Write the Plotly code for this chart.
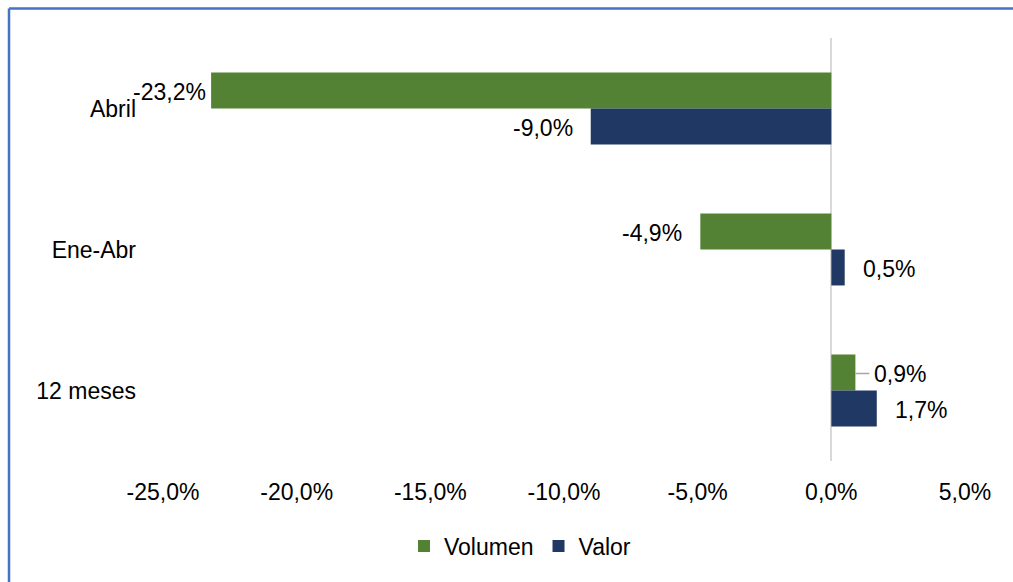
import plotly.graph_objects as go

categories = ["Abril", "Ene-Abr", "12 meses"]
volumen = [-23.2, -4.9, 0.9]
valor = [-9.0, 0.5, 1.7]
x_ticks = [-25, -20, -15, -10, -5, 0, 5]

GREEN = "#548235"
BLUE = "#203864"
FONT = "Liberation Sans, Arial, sans-serif"
FS = 23

def fmt(v):
    return f"{v:.1f}".replace(".", ",") + "%"

fig = go.Figure()
fig.add_trace(go.Bar(name="Volumen", y=categories, x=volumen, orientation="h",
                     marker=dict(color=GREEN, line=dict(width=0)), cliponaxis=False))
fig.add_trace(go.Bar(name="Valor", y=categories, x=valor, orientation="h",
                     marker=dict(color=BLUE, line=dict(width=0)), cliponaxis=False))

def add_label(v, idx, yshift, leader=False):
    if leader:
        fig.add_annotation(x=v, y=idx, xref="x", yref="y", yshift=yshift,
                           text=fmt(v), showarrow=True, ax=14, ay=0,
                           arrowhead=0, arrowwidth=1.5, arrowcolor="#A6A6A6",
                           xanchor="left", borderpad=4,
                           font=dict(size=FS, color="black", family=FONT))
        return
    pad = 3 if v < -20 else 16
    fig.add_annotation(x=v, y=idx, xref="x", yref="y", yshift=yshift,
                       xshift=-pad if v < 0 else pad,
                       xanchor="right" if v < 0 else "left",
                       text=fmt(v), showarrow=False,
                       font=dict(size=FS, color="black", family=FONT))

for i, v in enumerate(volumen):
    add_label(v, i, 17, leader=(i == 2))
for i, v in enumerate(valor):
    add_label(v, i, -19)

W, H = 1013, 582
L, R, T, B = 163, 965, 38, 461
pw, ph = R - L, B - T
bx = (9 - L) / pw
by = 1 + (T - 8.5) / ph
border = dict(color="#4472C4", width=2.5)
fig.add_shape(type="line", xref="paper", yref="paper",
              x0=bx, x1=(W - L) / pw, y0=by, y1=by, line=border, layer="below")
fig.add_shape(type="line", xref="paper", yref="paper",
              x0=bx, x1=bx, y0=by, y1=(B - H) / ph, line=border, layer="below")

fig.update_layout(
    width=W, height=H,
    margin=dict(l=L, r=W - R, t=T, b=H - B),
    paper_bgcolor="white", plot_bgcolor="white",
    barmode="group", bargap=0.49, bargroupgap=0,
    font=dict(family=FONT, size=FS, color="black"),
    showlegend=True,
    legend=dict(orientation="h", x=(520 - L) / pw, xanchor="center",
                y=(B - 546) / ph, yanchor="middle",
                font=dict(size=FS, family=FONT), traceorder="normal"),
    xaxis=dict(range=[-25, 5], tickvals=x_ticks, ticktext=[fmt(v) for v in x_ticks],
               showgrid=False, zeroline=True, zerolinecolor="#D9D9D9", zerolinewidth=2,
               showline=False, ticks="", ticklabelstandoff=15,
               tickfont=dict(size=FS, family=FONT)),
    yaxis=dict(autorange="reversed", showgrid=False, zeroline=False, showline=False,
               ticks="", ticklabelstandoff=26, tickfont=dict(size=FS, family=FONT)),
)

html = fig.to_html(
    full_html=True, include_plotlyjs=True,
    config={"displayModeBar": False},
)
html = html.replace(
    "<head>",
    "<head><style>html,body{margin:0;padding:0;overflow:hidden;background:white;}"
    "::-webkit-scrollbar{display:none;}</style>",
    1,
)
with open("out.html", "w", encoding="utf-8") as f:
    f.write(html)
